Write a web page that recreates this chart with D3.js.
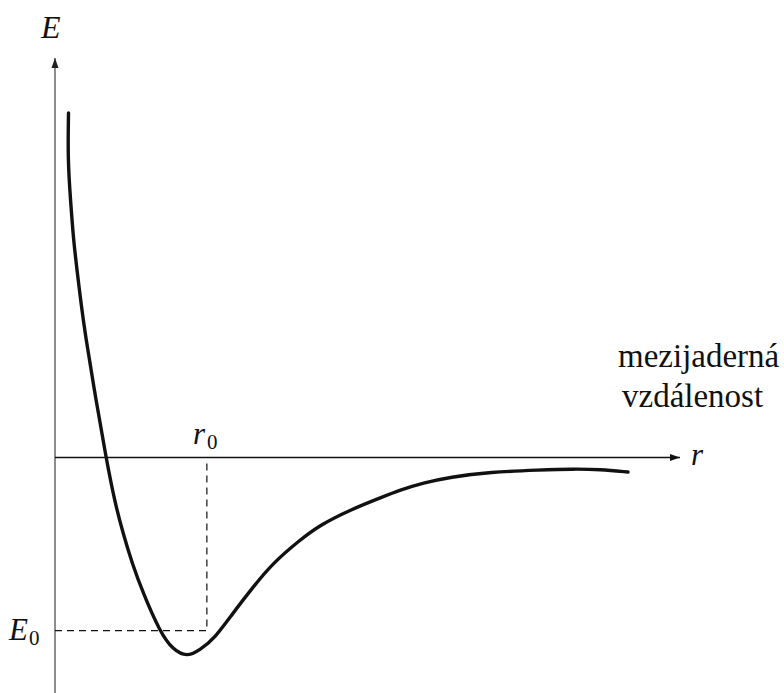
<!DOCTYPE html>
<html><head><meta charset="utf-8"><script src="https://cdn.jsdelivr.net/npm/d3@7"></script></head>
<body style="margin:0">
<script>
// Potential energy of two nuclei versus internuclear distance (schematic units)
const distance = [0.216, 0.205, 0.248, 0.296, 0.352, 0.416, 0.48, 0.656, 0.816, 0.96, 1.088, 1.232, 1.408,
                  1.68, 1.888, 2.112, 2.32, 2.56, 2.848, 3.168, 3.488, 3.92, 4.24, 4.72, 5.2, 5.52,
                  5.888, 6.32, 6.96, 7.76, 8.288, 8.72, 9.168];
const energy = [1.989, 1.718, 1.487, 1.256, 1.083, 0.892, 0.719, 0.332, 0.0, -0.263, -0.436, -0.609, -0.782,
                -1.007, -1.111, -1.152, -1.111, -1.042, -0.898, -0.748, -0.609, -0.476, -0.39, -0.303, -0.234, -0.188,
                -0.147, -0.113, -0.084, -0.072, -0.066, -0.069, -0.084];
const r0 = 2.43;   // equilibrium distance
const E0 = -1.0;   // binding energy level
const labels = { e: "E", r: "r", r0: "r", e0: "E", sub: "0", dist1: "mezijaderná", dist2: "vzdálenost" };

const W = 784, H = 693;
const FONT = "Liberation Serif";
const svg = d3.select("body").append("svg").attr("width", W).attr("height", H)
  .style("display", "block");

const x = d3.scaleLinear().domain([0, 10]).range([55, 680]);
const y = d3.scaleLinear().domain([0, 1]).range([457.5, 284.3]);

const defs = svg.append("defs");
defs.append("marker").attr("id", "arrowK")
  .attr("viewBox", "0 0 10 10").attr("refX", 10).attr("refY", 5)
  .attr("markerWidth", 10).attr("markerHeight", 10).attr("markerUnits", "userSpaceOnUse")
  .attr("orient", "auto")
  .append("path").attr("d", "M0,1.5 L10,5 L0,8.5 Z").attr("fill", "#111");
defs.append("marker").attr("id", "arrowG")
  .attr("viewBox", "0 0 10 10").attr("refX", 10).attr("refY", 5)
  .attr("markerWidth", 10).attr("markerHeight", 10).attr("markerUnits", "userSpaceOnUse")
  .attr("orient", "auto")
  .append("path").attr("d", "M0,1.5 L10,5 L0,8.5 Z").attr("fill", "#222");

// vertical (energy) axis
svg.append("line")
  .attr("x1", x(0)).attr("y1", H).attr("x2", x(0)).attr("y2", 58)
  .attr("stroke", "#707070").attr("stroke-width", 1.6)
  .attr("marker-end", "url(#arrowG)");

// horizontal (distance) axis
svg.append("line")
  .attr("x1", x(0)).attr("y1", y(0)).attr("x2", x(10)).attr("y2", y(0))
  .attr("stroke", "#111").attr("stroke-width", 1.4)
  .attr("marker-end", "url(#arrowK)");

// dashed guides to the minimum
svg.append("path")
  .attr("d", `M${x(0)},${y(E0)} H${x(r0)} V${y(0) + 5}`)
  .attr("fill", "none").attr("stroke", "#111").attr("stroke-width", 1.2)
  .attr("stroke-dasharray", "7,5");

// potential curve (smoothed through the sampled points)
const pts = distance.map((d, i) => [d, energy[i]]);
svg.append("path")
  .datum(pts)
  .attr("d", d3.line().x(d => x(d[0])).y(d => y(d[1])).curve(d3.curveBasis))
  .attr("fill", "none").attr("stroke", "#111").attr("stroke-width", 3.4)
  .attr("stroke-linecap", "round").attr("stroke-linejoin", "round");

// labels
function label(px, py, size, italic, str) {
  return svg.append("text").attr("x", px).attr("y", py).attr("font-size", size)
    .attr("font-family", FONT)
    .attr("font-style", italic ? "italic" : "normal").attr("fill", "#111").text(str);
}

label(41, 38, 32, true, labels.e);
label(691, 465, 31, true, labels.r);

const r0t = label(193, 444, 31, false, "");
r0t.append("tspan").attr("font-style", "italic").text(labels.r0);
r0t.append("tspan").attr("font-size", 21).attr("dy", 5).attr("dx", 2).text(labels.sub);

const e0t = label(9, 640, 31, false, "");
e0t.append("tspan").attr("font-style", "italic").text(labels.e0);
e0t.append("tspan").attr("font-size", 21).attr("dy", 5).attr("dx", 1).text(labels.sub);

// axis caption
label(618, 367, 33, false, labels.dist1);
label(622, 407, 33, false, labels.dist2);
</script>
</body></html>
